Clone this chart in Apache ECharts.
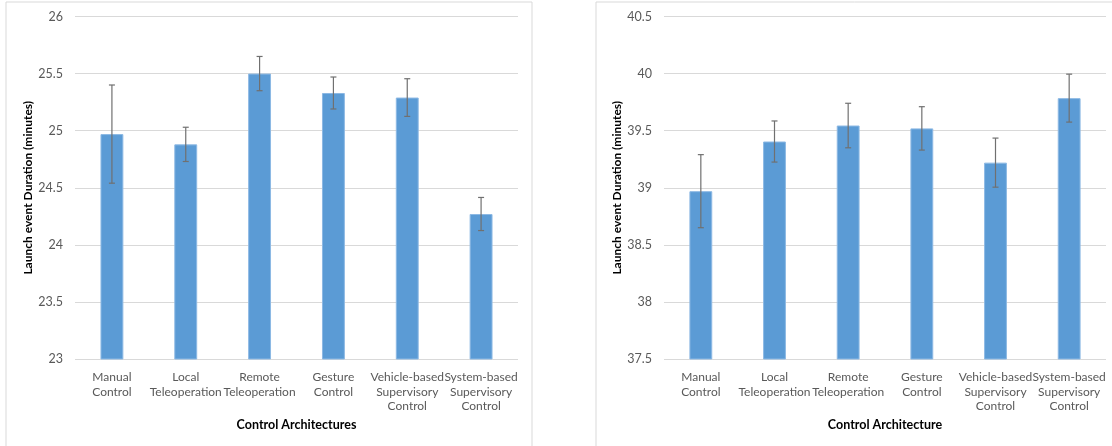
<!DOCTYPE html>
<html>
<head>
<meta charset="utf-8">
<script src="https://cdn.jsdelivr.net/npm/echarts@6/dist/echarts.min.js"></script>
<style>
html,body{margin:0;padding:0;background:#fff;}
#c{width:1112px;height:446px;}
</style>
</head>
<body>
<div id="c"></div>
<script>
const categories = ["Manual\nControl", "Local\nTeleoperation", "Remote\nTeleoperation", "Gesture\nControl", "Vehicle-based\nSupervisory\nControl", "System-based\nSupervisory\nControl"];
const leftMeans = [24.97, 24.88, 25.50, 25.33, 25.29, 24.27];
const leftErr   = [0.43, 0.15, 0.15, 0.14, 0.165, 0.145];
const rightMeans = [38.97, 39.405, 39.545, 39.52, 39.22, 39.785];
const rightErr   = [0.32, 0.18, 0.195, 0.19, 0.215, 0.21];
const leftAxisRange = {min: 23, max: 26, interval: 0.5};
const rightAxisRange = {min: 37.5, max: 40.5, interval: 0.5};
const leftXName = "Control Architectures";
const rightXName = "Control Architecture";
const yName = "Launch event Duration (minutes)";

const FONT = "Lato";
const chart = echarts.init(document.getElementById('c'), null, {renderer: 'canvas'});

function xAxisCfg(idx, name) {
  return {
    type: 'category', gridIndex: idx, data: categories,
    axisLine: {show: false}, axisTick: {show: false},
    axisLabel: {interval: 0, color: '#595959', fontFamily: FONT, fontSize: 12, lineHeight: 14.5, margin: 11},
    name: name, nameLocation: 'middle', nameGap: 59,
    nameTextStyle: {fontFamily: FONT, fontWeight: 'bold', fontSize: 12.5, color: '#000'}
  };
}
function yAxisCfg(idx, r) {
  return {
    type: 'value', gridIndex: idx, min: r.min, max: r.max, interval: r.interval,
    axisLine: {show: false}, axisTick: {show: false},
    axisLabel: {color: '#595959', fontFamily: FONT, fontSize: 12.5, margin: 12},
    splitLine: {lineStyle: {color: '#D9D9D9', width: 1}},
    name: yName, nameLocation: 'middle', nameGap: 38, nameRotate: 90,
    nameTextStyle: {fontFamily: FONT, fontWeight: 'bold', fontSize: 12, color: '#000'}
  };
}
function errSeries(idx, means, errs) {
  return {
    type: 'custom', xAxisIndex: idx, yAxisIndex: idx, z: 5,
    data: means.map((m, i) => [i, m - errs[i], m + errs[i]]),
    renderItem: function (params, api) {
      const lo = api.coord([api.value(0), api.value(1)]);
      const hi = api.coord([api.value(0), api.value(2)]);
      const w = 3;
      const st = {stroke: '#707070', lineWidth: 1.2};
      return {type: 'group', children: [
        {type: 'line', shape: {x1: hi[0], y1: hi[1], x2: lo[0], y2: lo[1]}, style: st},
        {type: 'line', shape: {x1: hi[0]-w, y1: hi[1], x2: hi[0]+w, y2: hi[1]}, style: st},
        {type: 'line', shape: {x1: lo[0]-w, y1: lo[1], x2: lo[0]+w, y2: lo[1]}, style: st}
      ]};
    }
  };
}
function barSeries(idx, means) {
  return {
    type: 'bar', xAxisIndex: idx, yAxisIndex: idx, data: means, barWidth: '31%',
    itemStyle: {color: '#5B9BD5', borderColor: '#8DB9E4', borderWidth: 1},
    silent: true
  };
}

chart.setOption({
  animation: false,
  graphic: [
    {type: 'rect', shape: {x: 6, y: 2, width: 526, height: 460}, style: {fill: 'none', stroke: '#D9D9D9', lineWidth: 1}, z: -10},
    {type: 'rect', shape: {x: 596, y: 2, width: 530, height: 460}, style: {fill: 'none', stroke: '#D9D9D9', lineWidth: 1}, z: -10}
  ],
  grid: [
    {left: 75, right: 594, top: 16.5, bottom: 87},
    {left: 664, right: 6, top: 16.5, bottom: 87}
  ],
  xAxis: [xAxisCfg(0, leftXName), xAxisCfg(1, rightXName)],
  yAxis: [yAxisCfg(0, leftAxisRange), yAxisCfg(1, rightAxisRange)],
  series: [
    barSeries(0, leftMeans), errSeries(0, leftMeans, leftErr),
    barSeries(1, rightMeans), errSeries(1, rightMeans, rightErr)
  ]
});
</script>
</body>
</html>
